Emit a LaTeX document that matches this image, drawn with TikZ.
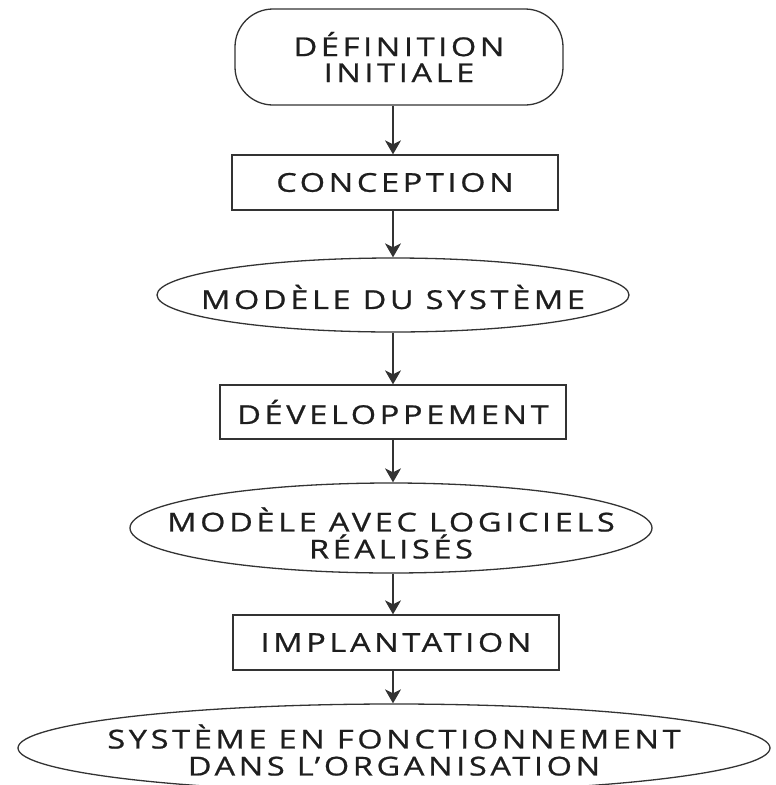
\documentclass[tikz,border=0pt]{standalone}
\usepackage{fontspec}
\setmainfont{Open Sans}[FakeStretch=1.25, LetterSpace=14, FakeBold=0.8]
\usetikzlibrary{shapes.geometric,arrows.meta}
\definecolor{linec}{HTML}{333333}
\definecolor{txtc}{HTML}{1E1E1E}
\begin{document}
\begin{tikzpicture}[x=1pt,y=-1pt,
  box/.style={draw=linec, line width=1.3pt, rectangle, inner sep=0pt, align=center,
    text=txtc, font=\fontsize{26}{26}\selectfont},
  rbox/.style={box, rounded corners=38pt},
  ell/.style={draw=linec, line width=1.3pt, ellipse, inner sep=0pt},
  lbl/.style={align=center, text=txtc, font=\fontsize{26}{27}\selectfont},
  flow/.style={draw=linec, line width=1.4pt, -{Stealth[length=14pt,width=16pt,inset=4pt]}}]
\useasboundingbox (0,0) rectangle (776,785);
\coordinate (axis) at (393,0);
\node[rbox, minimum width=328pt, minimum height=96pt] (def) at (399,57) {DÉFINITION\\INITIALE};
\node[box, minimum width=326pt, minimum height=55pt] (con) at (395,182.5) {CONCEPTION};
\node[ell, minimum width=472pt, minimum height=74pt,
  label={[lbl,yshift=-2pt]center:MODÈLE DU SYSTÈME}] (m1) at (393,295) {};
\node[box, minimum width=346pt, minimum height=54pt] (dev) at (393,412) {DÉVELOPPEMENT};
\node[ell, minimum width=522pt, minimum height=90pt,
  label={[lbl,yshift=-5pt]center:{MODÈLE AVEC LOGICIELS\\RÉALISÉS}}] (m2) at (391,528) {};
\node[box, minimum width=326pt, minimum height=55pt] (imp) at (396,642.5) {IMPLANTATION};
\node[ell, minimum width=752pt, minimum height=88pt,
  label={[lbl,yshift=-2pt]center:{SYSTÈME EN FONCTIONNEMENT\\DANS L'ORGANISATION}}] (sys) at (394,748) {};
\draw[flow] (def.south -| axis) -- (con.north -| axis);
\draw[flow] (con.south -| axis) -- (m1.north -| axis);
\draw[flow] (m1.south -| axis) -- (dev.north -| axis);
\draw[flow] (dev.south -| axis) -- (m2.north -| axis);
\draw[flow] (m2.south -| axis) -- (imp.north -| axis);
\draw[flow] (imp.south -| axis) -- (sys.north -| axis);
\end{tikzpicture}
\end{document}
